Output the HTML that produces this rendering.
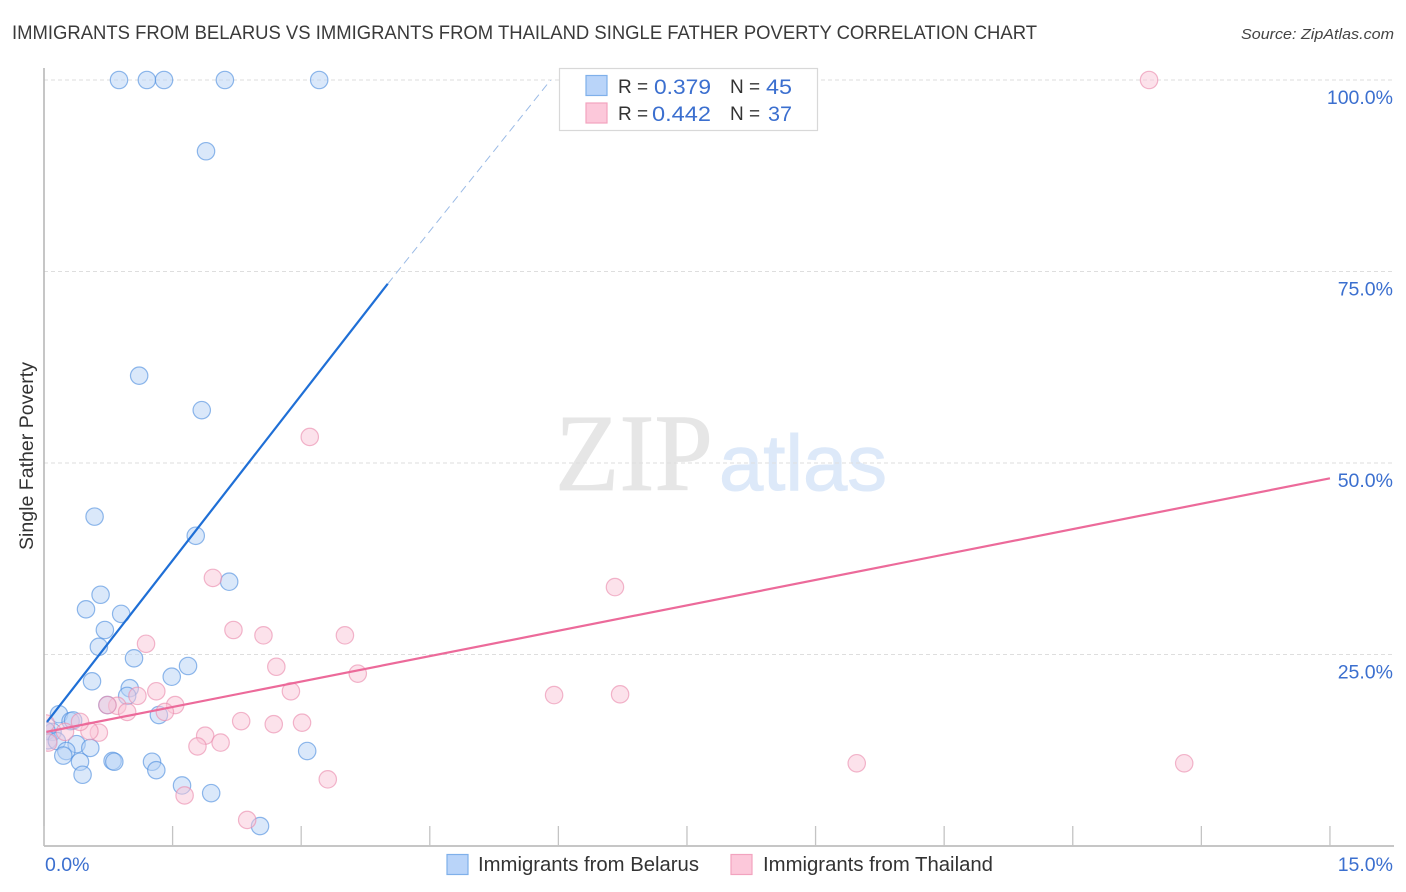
<!DOCTYPE html>
<html>
<head>
<meta charset="utf-8">
<title>Immigrants from Belarus vs Immigrants from Thailand Single Father Poverty Correlation Chart</title>
<style>
html,body{margin:0;padding:0;background:#fff;width:1406px;height:892px;overflow:hidden}
svg{display:block}
text{font-family:"Liberation Sans",sans-serif}
</style>
</head>
<body>
<svg id="chart" width="1406" height="892" viewBox="0 0 1406 892" xmlns="http://www.w3.org/2000/svg">
  <defs><clipPath id="plot-clip"><rect x="46" y="60" width="1360" height="786"/></clipPath></defs>
  <text x="12" y="39" font-size="19.5" fill="#3a3a3a" textLength="1025" lengthAdjust="spacingAndGlyphs">IMMIGRANTS FROM BELARUS VS IMMIGRANTS FROM THAILAND SINGLE FATHER POVERTY CORRELATION CHART</text>
  <text x="1241" y="39" font-size="15" font-style="italic" fill="#444" textLength="153" lengthAdjust="spacingAndGlyphs">Source: ZipAtlas.com</text>
  <g>
    <text x="555" y="490" font-size="110" fill="#e6e6e6" stroke="#e6e6e6" stroke-width="0.8" style="font-family:'Liberation Serif',serif" textLength="158" lengthAdjust="spacingAndGlyphs">ZIP</text>
    <text x="719" y="490" font-size="79" fill="#dde9f9" stroke="#dde9f9" stroke-width="1" textLength="168" lengthAdjust="spacingAndGlyphs">atlas</text>
  </g>
  <g id="grid"></g>
  <g id="axes"></g>
  <g id="ylabels"></g>
  <g id="xlabels"></g>
  <text transform="translate(33,550) rotate(-90)" font-size="19" fill="#333" textLength="188" lengthAdjust="spacingAndGlyphs">Single Father Poverty</text>
  <g id="points" clip-path="url(#plot-clip)"></g>
  <g id="trends"></g>
  <g>
    <rect x="559.5" y="68.5" width="258" height="62" fill="#fff" stroke="#d8d8d8" stroke-width="1.2"/>
    <rect x="586" y="75.5" width="21" height="20" fill="#b9d4f9" stroke="#7fb0ea" stroke-width="1.2"/>
    <rect x="586" y="103" width="21" height="20" fill="#fcc8da" stroke="#f2a3bf" stroke-width="1.2"/>
    <text x="618" y="93" font-size="19" fill="#333">R =</text>
    <text x="654" y="94" font-size="21.5" fill="#3b6fcf" textLength="57" lengthAdjust="spacingAndGlyphs">0.379</text>
    <text x="730" y="93" font-size="19" fill="#333">N =</text>
    <text x="766" y="94" font-size="21.5" fill="#3b6fcf" textLength="26" lengthAdjust="spacingAndGlyphs">45</text>
    <text x="618" y="120" font-size="19" fill="#333">R =</text>
    <text x="652" y="121" font-size="21.5" fill="#3b6fcf" textLength="59" lengthAdjust="spacingAndGlyphs">0.442</text>
    <text x="730" y="120" font-size="19" fill="#333">N =</text>
    <text x="768" y="121" font-size="21.5" fill="#3b6fcf" textLength="24" lengthAdjust="spacingAndGlyphs">37</text>
  </g>
  <g>
    <rect x="447" y="854.5" width="21" height="20" fill="#b9d4f9" stroke="#7fb0ea" stroke-width="1.2"/>
    <text x="478" y="871" font-size="20" fill="#333" textLength="221" lengthAdjust="spacingAndGlyphs">Immigrants from Belarus</text>
    <rect x="731" y="854.5" width="21" height="20" fill="#fcc8da" stroke="#f2a3bf" stroke-width="1.2"/>
    <text x="763" y="871" font-size="20" fill="#333" textLength="230" lengthAdjust="spacingAndGlyphs">Immigrants from Thailand</text>
  </g>
</svg>
<script>
const belarusX = [0.875,1.20,1.40,2.11,3.21,1.89,1.11,1.84,0.59,1.77,2.16,0.66,0.49,0.90,0.71,0.64,1.05,1.68,1.49,0.56,1.00,0.97,0.74,1.34,0.175,0.31,0.34,0.10,0.03,0.05,0.15,0.38,0.54,0.26,0.225,0.42,0.45,0.80,0.82,1.26,1.31,1.61,1.95,2.52,3.07];
const belarusY = [100,100,100,100,100,90.7,61.4,56.9,43.0,40.5,34.5,32.8,30.9,30.3,28.2,26.0,24.5,23.5,22.1,21.5,20.6,19.6,18.4,17.1,17.2,16.3,16.4,14.9,15.0,13.8,13.7,13.3,12.8,12.4,11.8,11.0,9.3,11.1,11.0,11.0,9.9,7.9,6.9,2.6,12.4];
const thailandX = [12.89,3.10,1.97,6.66,1.19,2.21,2.56,3.51,2.71,3.66,2.88,1.31,1.09,5.95,6.72,0.855,0.74,0.97,1.53,1.41,2.30,2.68,3.01,1.88,2.06,1.79,0.64,0.53,0.42,1.64,2.37,3.31,9.48,13.30,0.05,0.02,0.245];
const thailandY = [100,53.4,35.0,33.8,26.4,28.2,27.5,27.5,23.4,22.5,20.2,20.2,19.6,19.7,19.8,18.3,18.4,17.5,18.4,17.5,16.3,15.9,16.1,14.4,13.5,13.0,14.8,15.0,16.2,6.6,3.4,8.7,10.8,10.8,13.5,16.0,14.9];
const belarusTrendX = [0.035,4.01];
const belarusTrendY = [16.2,73.4];
const belarusDashX = [4.01,5.91];
const belarusDashY = [73.4,100];
const thailandTrendX = [0.03,15];
const thailandTrendY = [14.9,48.0];
const yTicks = [25,50,75,100];
const yTickLabels = ["25.0%","50.0%","75.0%","100.0%"];
const xTicks = [0,1.5,3,4.5,6,7.5,9,10.5,12,13.5,15];
const xEndTicks = [0,15];
const xEndLabels = ["0.0%","15.0%"];

const NS = "http://www.w3.org/2000/svg";
function sx(v){ return 44 + v * 85.73; }
function sy(v){ return 846 - v * 7.66; }
function make(tag, attrs, parent){
  const el = document.createElementNS(NS, tag);
  for (const k in attrs) el.setAttribute(k, attrs[k]);
  parent.appendChild(el);
  return el;
}
const grid = document.getElementById("grid");
const axes = document.getElementById("axes");
const ylabels = document.getElementById("ylabels");
const xlabels = document.getElementById("xlabels");
const points = document.getElementById("points");
const trends = document.getElementById("trends");

yTicks.forEach(function(t, i){
  const g = make("line", {x1:44, x2:1394, y1:sy(t), y2:sy(t), stroke:"#dedede", "stroke-width":1, "stroke-dasharray":"4 3"}, grid);
  
  
  const l = make("text", {x:1393, y:sy(t)+24, "text-anchor":"end", "font-size":19.5, fill:"#3b6fcf"}, ylabels);
  l.textContent = yTickLabels[i];
  
  
});

const yAxis = make("line", {x1:44, x2:44, y1:68, y2:846, stroke:"#b4b4b4", "stroke-width":1.5}, axes);


const xAxis = make("line", {x1:44, x2:1394, y1:846, y2:846, stroke:"#b4b4b4", "stroke-width":1.5}, axes);


xTicks.forEach(function(t){
  const m = make("line", {x1:sx(t), x2:sx(t), y1:826, y2:846, stroke:"#c4c4c4", "stroke-width":1.3}, axes);
  
  
});
xEndTicks.forEach(function(t, i){
  const l = make("text", {x: i === 0 ? sx(t)+1 : 1393, y:871, "text-anchor": i === 0 ? "start" : "end", "font-size":19.5, fill:"#3b6fcf"}, xlabels);
  l.textContent = xEndLabels[i];
  
  
});

function drawSeries(xs, ys, fill, stroke){
  xs.forEach(function(x, i){
    const c = make("circle", {cx:sx(x), cy:sy(ys[i]), r:8.7, fill:fill, "fill-opacity":0.5, stroke:stroke, "stroke-opacity":0.62, "stroke-width":1.2}, points);
    
    
  });
}
drawSeries(belarusX, belarusY, "#b5d1f6", "#4d8ede");
drawSeries(thailandX, thailandY, "#f9c5d8", "#ea8aad");

const blueLine = make("line", {x1:sx(belarusTrendX[0]), y1:sy(belarusTrendY[0]), x2:sx(belarusTrendX[1]), y2:sy(belarusTrendY[1]), stroke:"#1f6fd6", "stroke-width":2.2}, trends);


const blueDash = make("line", {x1:sx(belarusDashX[0]), y1:sy(belarusDashY[0]), x2:sx(belarusDashX[1]), y2:sy(belarusDashY[1]), stroke:"#9bbbe6", "stroke-width":1, "stroke-dasharray":"8 5"}, trends);


const pinkLine = make("line", {x1:sx(thailandTrendX[0]), y1:sy(thailandTrendY[0]), x2:sx(thailandTrendX[1]), y2:sy(thailandTrendY[1]), stroke:"#ec6a9a", "stroke-width":2.2}, trends);


</script>
</body>
</html>
